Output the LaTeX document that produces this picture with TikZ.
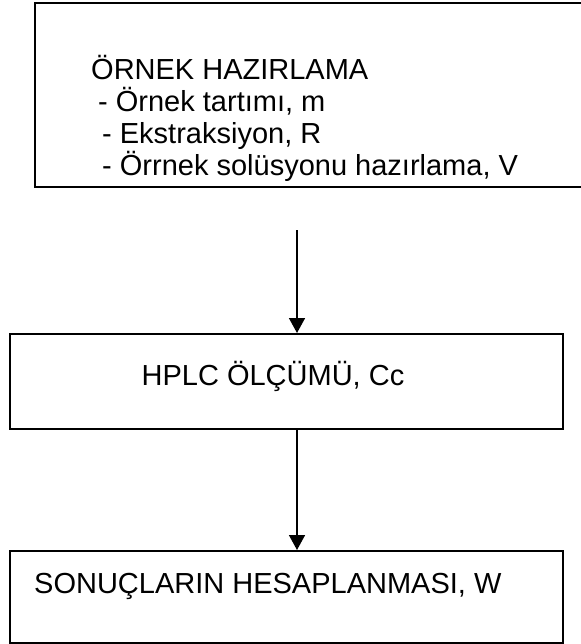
\documentclass[tikz,border=0pt]{standalone}
\usepackage{fontspec}
\setmainfont{Liberation Sans}
\usetikzlibrary{arrows.meta}
\tikzset{
  boxline/.style={draw=black, line width=1.6pt, rectangle, inner sep=0pt},
  lbl/.style={font=\fontsize{29}{33}\selectfont, inner sep=0pt},
  arr/.style={line width=1.6pt, -{Triangle[width=16pt,length=15pt]}}
}
\begin{document}
\begin{tikzpicture}[x=1pt,y=-1pt]
\useasboundingbox (0,0) rectangle (580,644);
% top box (extends past the right edge)
\node[boxline, minimum width=580pt, minimum height=184pt, anchor=north west] (top) at (34,2) {};
\node[lbl, anchor=base west] (t1) at (91,80) {ÖRNEK HAZIRLAMA};
\node[lbl, anchor=base west] (t2) at (98,112) {- Örnek tartımı, m};
\node[lbl, anchor=base west] (t3) at (102,144) {- Ekstraksiyon, R};
\node[lbl, anchor=base west] (t4) at (102,176) {- Örrnek solüsyonu hazırlama, V};
% middle box
\node[boxline, minimum width=553pt, minimum height=95pt, anchor=north west] (mid) at (9,333) {};
\node[lbl] (midtxt) at (273,376) {HPLC ÖLÇÜMÜ, Cc};
% bottom box
\node[boxline, minimum width=553pt, minimum height=92pt, anchor=north west] (bot) at (9,550) {};
\node[lbl, anchor=base west] (bottxt) at (34,593) {SONUÇLARIN HESAPLANMASI, W};
% arrows
\coordinate (a1) at (297,230);
\draw[arr] (a1) -- (a1 |- mid.north);
\coordinate (a2) at (297,0);
\draw[arr] (a2 |- mid.south) -- (a2 |- bot.north);
\end{tikzpicture}
\end{document}
